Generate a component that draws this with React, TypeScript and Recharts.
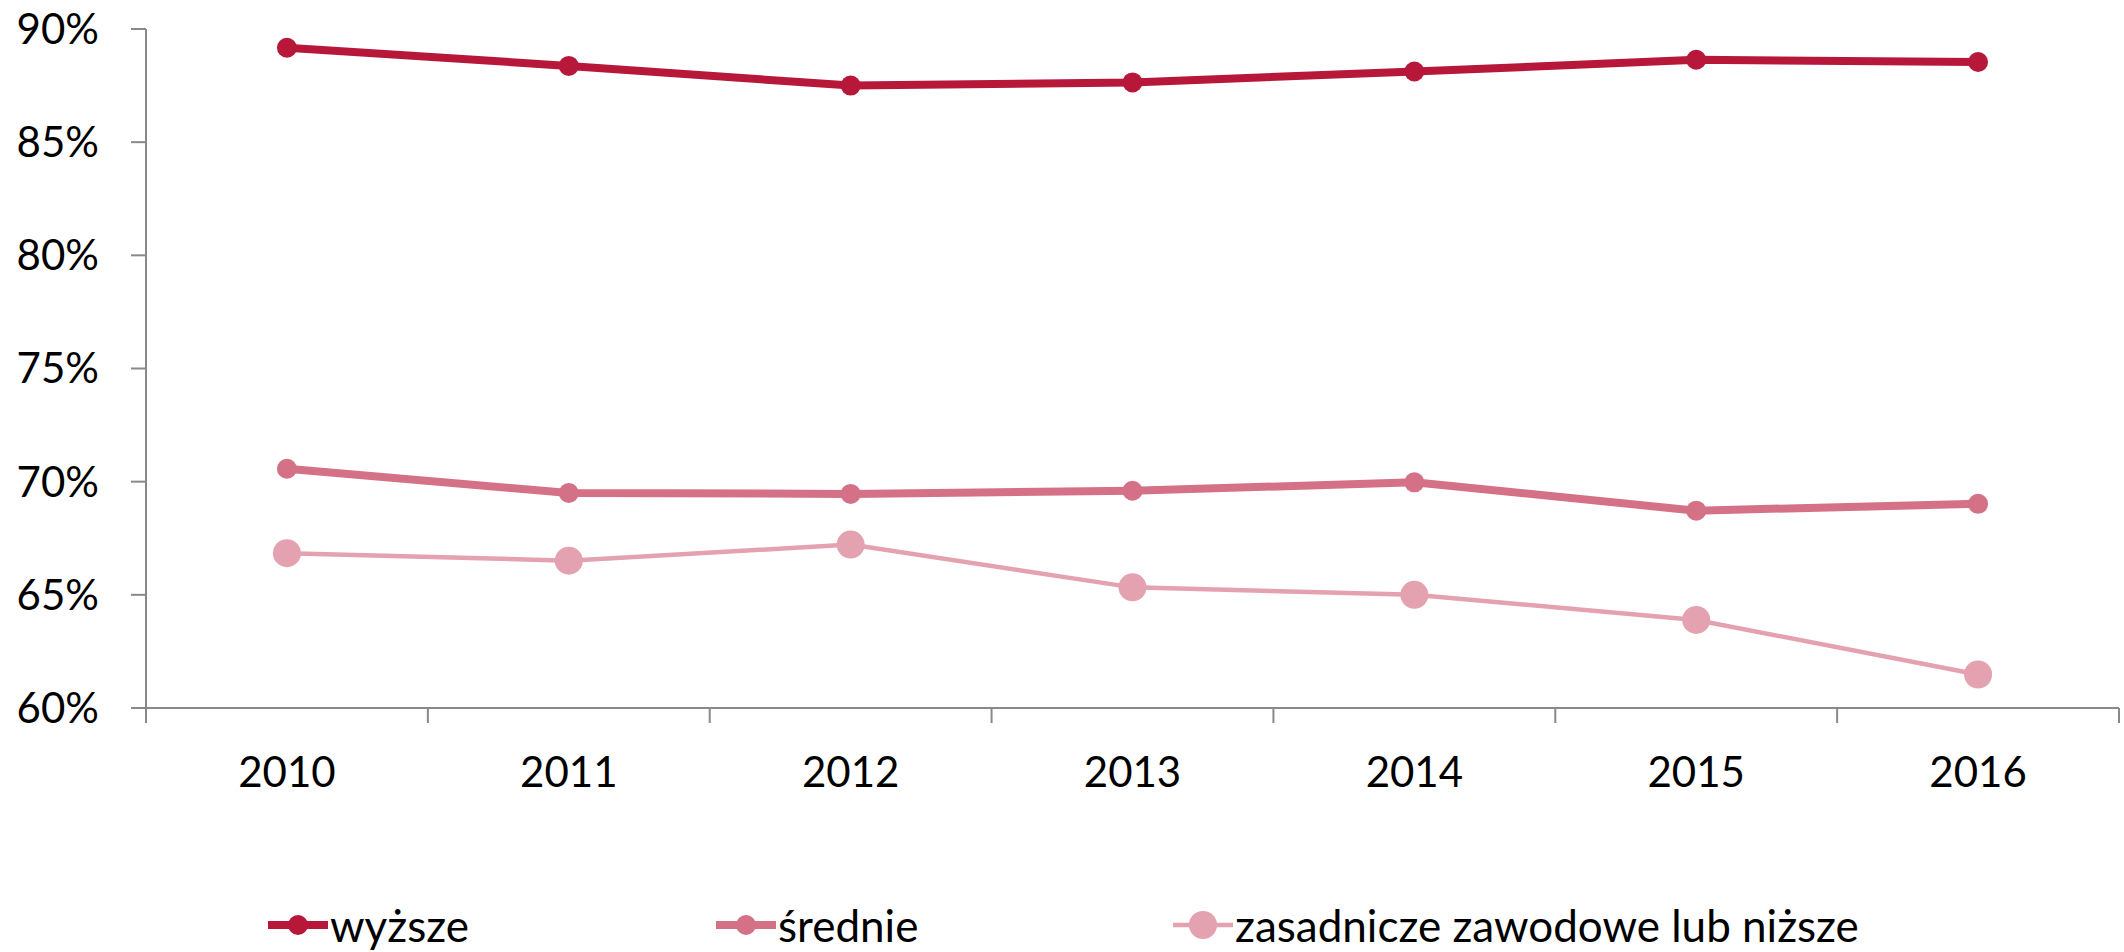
import { LineChart, Line, XAxis, YAxis } from "recharts";

const years = ["2010", "2011", "2012", "2013", "2014", "2015", "2016"];
const wyzsze = [89.17, 88.37, 87.5, 87.64, 88.12, 88.64, 88.54];
const srednie = [70.57, 69.5, 69.46, 69.6, 69.97, 68.72, 69.02];
const zasadnicze = [66.84, 66.51, 67.22, 65.33, 65.0, 63.89, 61.48];
const yTicks = [60, 65, 70, 75, 80, 85, 90];
const xBounds = [-0.5, 0.5, 1.5, 2.5, 3.5, 4.5, 5.5, 6.5];

const series = [
	{ key: "wyzsze", name: "wyższe", color: "#B7183A", width: 8, r: 10 },
	{ key: "srednie", name: "średnie", color: "#D47187", width: 8, r: 10 },
	{ key: "zasadnicze", name: "zasadnicze zawodowe lub niższe", color: "#E4A1AF", width: 4.5, r: 14 },
];

const data = years.map((y, i) => ({
	idx: i,
	year: y,
	wyzsze: wyzsze[i],
	srednie: srednie[i],
	zasadnicze: zasadnicze[i],
}));

const W = 2124;
const H = 952;
const FONT = "Lato, 'Noto Sans', sans-serif";
const AXIS = "#898989";
const BAND = (2119 - 146) / years.length;

function YearTick(props: any) {
	const { x, y, payload } = props;
	const i = payload.value + 0.5;
	if (i >= years.length) return null;
	return (
		<text x={x + BAND / 2} y={y} dy={64} textAnchor="middle" fontSize={42} fill="#000" fontFamily={FONT}>
			{years[i]}
		</text>
	);
}

const legendLeft = [268, 716, 1173];

export default function App() {
	return (
		<div style={{ position: "absolute", left: 0, top: 0, width: W, height: H, background: "#fff", overflow: "hidden" }}>
			<LineChart width={W} height={H} data={data} margin={{ top: 29, right: 5, left: 0, bottom: 134 }}>
				<XAxis
					dataKey="idx"
					type="number"
					domain={[-0.5, 6.5]}
					ticks={xBounds}
					interval={0}
					height={110}
					stroke={AXIS}
					strokeWidth={2}
					tickSize={15}
					tickMargin={0}
					tick={<YearTick />}
				/>
				<YAxis
					domain={[60, 90]}
					ticks={yTicks}
					interval={0}
					width={146}
					stroke={AXIS}
					strokeWidth={2}
					tickSize={15}
					tickMargin={32}
					tickFormatter={(v) => `${v}%`}
					tick={{ fontSize: 42, fill: "#000", fontFamily: FONT }}
				/>
				{series.map((s) => (
					<Line
						key={s.key}
						dataKey={s.key}
						name={s.name}
						stroke={s.color}
						strokeWidth={s.width}
						dot={{ r: s.r, fill: s.color, stroke: "none" }}
						activeDot={false}
						isAnimationActive={false}
					/>
				))}
			</LineChart>
			{series.map((s, i) => (
				<div
					key={s.key}
					style={{
						position: "absolute",
						left: legendLeft[i],
						top: 902,
						height: 46,
						display: "flex",
						alignItems: "center",
						fontFamily: FONT,
						fontSize: 44,
						whiteSpace: "nowrap",
					}}
				>
					<svg width={60} height={30} style={{ marginRight: 2 }}>
						<line x1={0} y1={15} x2={60} y2={15} stroke={s.color} strokeWidth={s.width} />
						<circle cx={30} cy={15} r={s.r} fill={s.color} />
					</svg>
					<span style={{ lineHeight: "46px" }}>{s.name}</span>
				</div>
			))}
		</div>
	);
}
